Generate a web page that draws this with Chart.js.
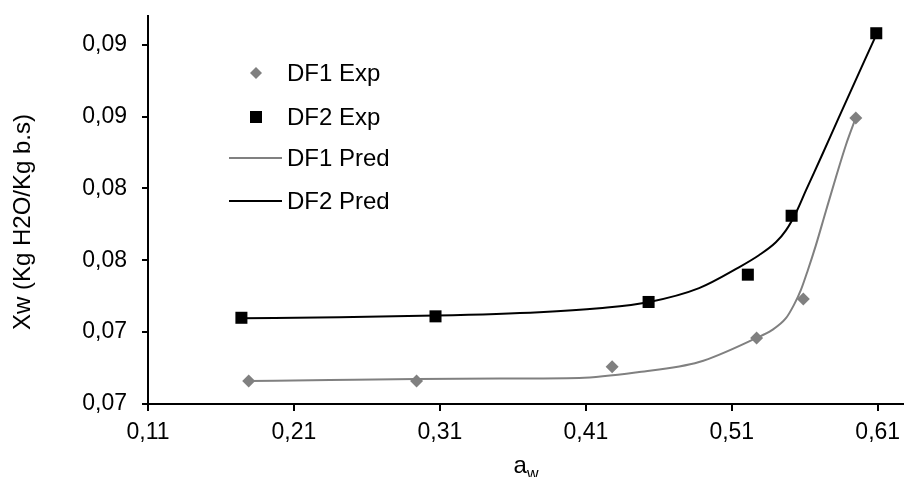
<!DOCTYPE html>
<html>
<head>
<meta charset="utf-8">
<script src="https://cdn.jsdelivr.net/npm/chart.js@4"></script>
<style>
  body { margin: 0; background: #fff; }
  #wrap { width: 904px; height: 477px; }
</style>
</head>
<body>
<div id="wrap"><canvas id="chart"></canvas></div>
<script>
// ---------- Data ----------
const xTicks = [0.11, 0.21, 0.31, 0.41, 0.51, 0.61];
const yTicks = [0.068, 0.073, 0.078, 0.083, 0.088, 0.093];

const df1ExpX = [0.179, 0.294, 0.428, 0.527, 0.559, 0.595];
const df1ExpY = [0.0696, 0.0696, 0.0706, 0.0726, 0.0753, 0.0879];
const df2ExpX = [0.174, 0.307, 0.453, 0.521, 0.551, 0.609];
const df2ExpY = [0.0740, 0.0741, 0.0751, 0.0770, 0.0811, 0.0938];

// model curves
const df1PredX = [0.179, 0.2345, 0.294, 0.351, 0.4055, 0.4465, 0.4876, 0.5266, 0.5375, 0.5471, 0.5525, 0.5573, 0.5621, 0.5676, 0.5744, 0.5813, 0.5881, 0.595];
const df1PredY = [0.0696, 0.06967, 0.06974, 0.06977, 0.06981, 0.07022, 0.07092, 0.07258, 0.07314, 0.07397, 0.07488, 0.07592, 0.07731, 0.07904, 0.0814, 0.08376, 0.08599, 0.08793];
const df2PredX = [0.1743, 0.2413, 0.307, 0.3781, 0.4192, 0.4527, 0.4876, 0.5149, 0.5286, 0.5402, 0.5471, 0.5541, 0.5608, 0.5717, 0.5833, 0.6093];
const df2PredY = [0.07397, 0.07404, 0.07415, 0.07439, 0.07467, 0.07508, 0.07606, 0.07751, 0.07835, 0.07925, 0.08008, 0.08133, 0.08286, 0.08529, 0.08793, 0.09376];

const labels = ["DF1 Exp", "DF2 Exp", "DF1 Pred", "DF2 Pred"];
const yTitle = "Xw (Kg H2O/Kg b.s)";

const FONT = '"Liberation Sans", Arial, sans-serif';
const pts = (xs, ys) => xs.map((x, i) => ({ x: x, y: ys[i] }));
const comma = v => v.toFixed(2).replace('.', ',');

// ---------- Titles + legend drawn inside the plot ----------
const overlay = {
  id: 'overlay',
  afterDraw(chart) {
    const ctx = chart.ctx;
    const area = chart.chartArea;
    ctx.save();
    ctx.fillStyle = '#000';

    // y title
    ctx.save();
    ctx.font = '24px ' + FONT;
    ctx.translate(30, 222);
    ctx.rotate(-Math.PI / 2);
    ctx.textAlign = 'center';
    ctx.textBaseline = 'alphabetic';
    ctx.fillText(yTitle, 0, 0);
    ctx.restore();

    // x title a_w
    ctx.textBaseline = 'alphabetic';
    ctx.textAlign = 'left';
    ctx.font = '24px ' + FONT;
    const wa = ctx.measureText('a').width;
    ctx.font = '16px ' + FONT;
    const ww = ctx.measureText('w').width;
    const cx = (area.left + area.right) / 2;
    const x0 = cx - (wa + ww) / 2;
    ctx.font = '24px ' + FONT;
    ctx.fillText('a', x0, 473);
    ctx.font = '16px ' + FONT;
    ctx.fillText('w', x0 + wa, 479);

    // legend
    const rows = [73, 117, 158, 201];
    ctx.font = '24px ' + FONT;
    ctx.textBaseline = 'middle';
    chart.data.datasets.forEach((ds, i) => {
      const y = rows[i];
      if (ds.showLine === false) {
        ctx.fillStyle = ds.backgroundColor;
        ctx.beginPath();
        if (ds.pointStyle === 'rectRot') {
          ctx.moveTo(256, y - 6); ctx.lineTo(262, y); ctx.lineTo(256, y + 6); ctx.lineTo(250, y);
        } else {
          ctx.rect(250, y - 6, 12, 12);
        }
        ctx.fill();
      } else {
        ctx.strokeStyle = ds.borderColor;
        ctx.lineWidth = 2;
        ctx.beginPath();
        ctx.moveTo(229, y); ctx.lineTo(282, y);
        ctx.stroke();
      }
      ctx.fillStyle = '#000';
      ctx.fillText(ds.label, 287, y + 1);
    });
    ctx.restore();
  }
};

const noPad = axis => {
  axis.paddingTop = 0;
  axis.paddingBottom = 0;
  axis.paddingLeft = 0;
  axis.paddingRight = 0;
};

// ---------- Chart ----------
const ctx = document.getElementById("chart").getContext("2d");

new Chart(ctx, {
  type: "scatter",
  data: {
    datasets: [
      {
        label: labels[0],
        data: pts(df1ExpX, df1ExpY),
        showLine: false,
        pointStyle: 'rectRot',
        pointRadius: 6.5,
        pointHoverRadius: 6.5,
        backgroundColor: '#808080',
        borderColor: '#808080',
        borderWidth: 0
      },
      {
        label: labels[1],
        data: pts(df2ExpX, df2ExpY),
        showLine: false,
        pointStyle: 'rect',
        pointRadius: 8.5,
        pointHoverRadius: 8.5,
        backgroundColor: '#000',
        borderColor: '#000',
        borderWidth: 0
      },
      {
        label: labels[2],
        data: pts(df1PredX, df1PredY),
        showLine: true,
        pointRadius: 0,
        borderColor: '#808080',
        borderWidth: 2,
        cubicInterpolationMode: 'monotone'
      },
      {
        label: labels[3],
        data: pts(df2PredX, df2PredY),
        showLine: true,
        pointRadius: 0,
        borderColor: '#000',
        borderWidth: 2,
        cubicInterpolationMode: 'monotone'
      }
    ]
  },
  options: {
    responsive: true,
    maintainAspectRatio: false,
    animation: false,
    layout: { autoPadding: false, padding: { top: 16, left: 0, right: 0, bottom: 0 } },
    plugins: {
      legend: { display: false },
      tooltip: { enabled: false }
    },
    scales: {
      x: {
        type: 'linear',
        min: 0.11,
        max: 0.628,
        afterBuildTicks: axis => { axis.ticks = xTicks.map(v => ({ value: v })); },
        afterFit: axis => { axis.height = 73; noPad(axis); },
        border: { color: '#000', width: 2 },
        // long tick line, only the first 6px drawn: keeps the labels low without label padding
        grid: { drawOnChartArea: false, drawTicks: true, tickLength: 15, tickBorderDash: [6, 40], color: '#000', lineWidth: 2 },
        ticks: {
          color: '#000',
          padding: 0,
          maxRotation: 0,
          font: { family: FONT, size: 23 },
          callback: v => comma(v)
        }
      },
      y: {
        type: 'linear',
        min: 0.068,
        max: 0.095,
        afterBuildTicks: axis => { axis.ticks = yTicks.map(v => ({ value: v })); },
        afterFit: axis => { axis.width = 148; noPad(axis); },
        border: { color: '#000', width: 2 },
        grid: { drawOnChartArea: false, drawTicks: true, tickLength: 6, color: '#000', lineWidth: 2 },
        ticks: {
          color: '#000',
          padding: 15,
          font: { family: FONT, size: 23 },
          callback: v => comma(v)
        }
      }
    }
  },
  plugins: [overlay]
});
</script>
</body>
</html>
